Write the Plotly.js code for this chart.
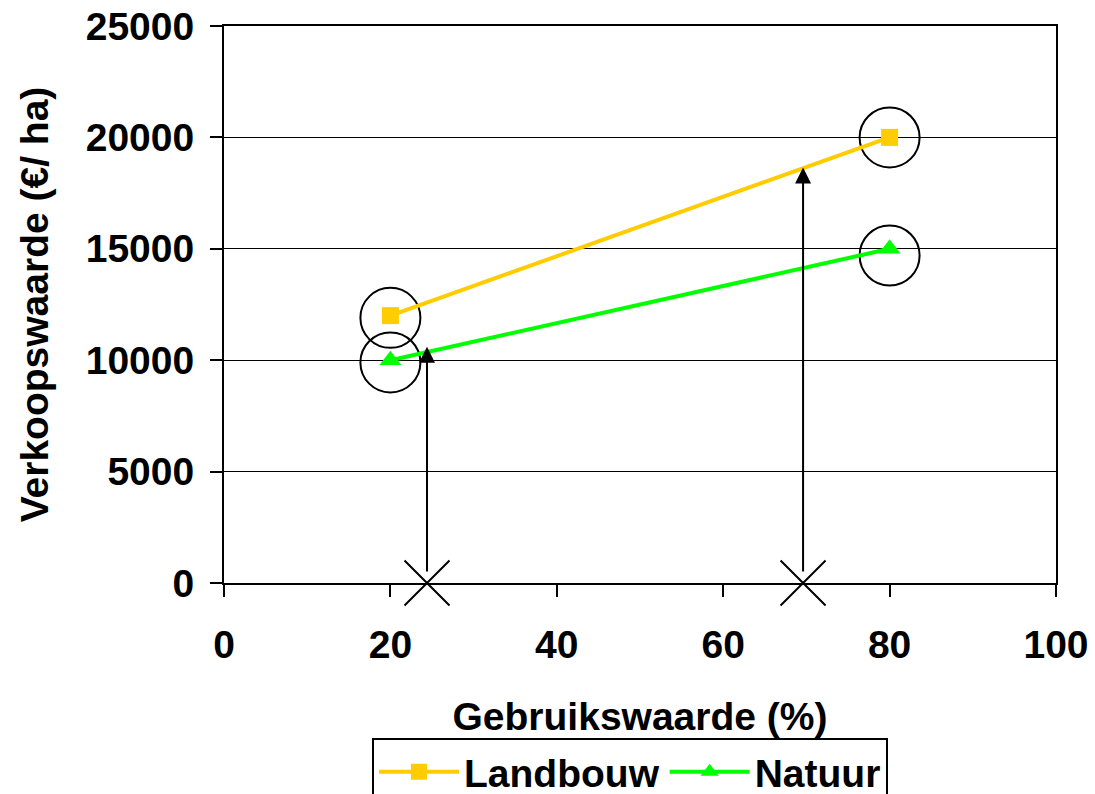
<!DOCTYPE html>
<html>
<head>
<meta charset="utf-8">
<script src="https://cdn.plot.ly/plotly-3.0.1.min.js"></script>
<style>html,body{margin:0;padding:0;background:#fff;}#chart{width:1095px;height:794px;}</style>
</head>
<body>
<div id="chart"></div>
<script>
// Data
var gebruikswaarde = [20, 80];
var landbouw = [12000, 20000];
var natuur = [10000, 15000];
var seriesNames = ["Landbouw", "Natuur"];
// Highlight circles around the points
var circleX = [20, 20, 80, 80];
var circleY = [11900, 9900, 20000, 14700];
// Vertical arrows from the x-axis
var arrowX = [24.4, 69.6];
var arrowTop = [10600, 18650];
var crossY = [0, 0];
var xTicks = [0, 20, 40, 60, 80, 100];
var yTicks = [0, 5000, 10000, 15000, 20000, 25000];

var FONT = "Liberation Sans, Arial, Helvetica, sans-serif";
var FS = 39;

var traces = [
  {
    x: circleX, y: circleY, mode: "markers", showlegend: false, hoverinfo: "skip",
    marker: {symbol: "circle-open", size: 60, color: "#000", line: {color: "#000", width: 2}}
  },
  {
    x: arrowX, y: crossY, mode: "markers", showlegend: false, hoverinfo: "skip", cliponaxis: false,
    marker: {symbol: "x-thin-open", size: 45, color: "#000", line: {color: "#000", width: 2}}
  },
  {
    x: gebruikswaarde, y: landbouw, name: seriesNames[0], mode: "lines+markers",
    line: {color: "#FFCC00", width: 4},
    marker: {symbol: "square", size: 17, color: "#FFCC00"}
  },
  {
    x: gebruikswaarde, y: natuur, name: seriesNames[1], mode: "lines+markers",
    line: {color: "#00FF00", width: 4},
    marker: {symbol: "triangle-up", size: 19, color: "#00FF00"}
  }
];

var annotations = arrowX.map(function (xv, i) {
  return {
    x: xv, y: arrowTop[i], ax: xv, ay: 0, xref: "x", yref: "y", axref: "x", ayref: "y",
    text: "", showarrow: true, arrowhead: 2, arrowsize: 1.6, arrowwidth: 2, arrowcolor: "#000",
    startstandoff: 10
  };
});

var layout = {
  width: 1095, height: 794,
  margin: {l: 224, r: 39, t: 26, b: 211, autoexpand: false},
  paper_bgcolor: "#fff", plot_bgcolor: "#fff",
  font: {family: FONT, size: FS, color: "#000", weight: 700},
  showlegend: true,
  legend: {
    orientation: "h", x: 0.488, xanchor: "center", y: -0.278, yanchor: "top",
    bordercolor: "#000", borderwidth: 2, bgcolor: "#fff",
    font: {family: FONT, size: FS, color: "#000", weight: 700},
    itemwidth: 80, tracegroupgap: 0
  },
  xaxis: {
    range: [0, 100], tickvals: xTicks, ticktext: xTicks.map(String),
    showgrid: false, zeroline: false, automargin: false,
    showline: true, linecolor: "#000", linewidth: 2, mirror: true,
    ticks: "outside", ticklen: 12, tickwidth: 2, tickcolor: "#000",
    ticklabelstandoff: 14,
    tickfont: {family: FONT, size: FS, color: "#000", weight: 700},
    title: {text: "Gebruikswaarde (%)", standoff: 38, font: {family: FONT, size: FS, color: "#000", weight: 700}}
  },
  yaxis: {
    range: [0, 25000], tickvals: yTicks, ticktext: yTicks.map(String),
    showgrid: true, gridcolor: "#000", gridwidth: 1, zeroline: false, automargin: false,
    showline: true, linecolor: "#000", linewidth: 2, mirror: true,
    ticks: "outside", ticklen: 12, tickwidth: 2, tickcolor: "#000",
    ticklabelstandoff: 8,
    tickfont: {family: FONT, size: FS, color: "#000", weight: 700},
    title: {text: "Verkoopswaarde (€/ ha)", standoff: 25, font: {family: FONT, size: FS, color: "#000", weight: 700}}
  },
  annotations: annotations
};

Plotly.newPlot("chart", traces, layout, {displayModeBar: false, staticPlot: true});
</script>
</body>
</html>
